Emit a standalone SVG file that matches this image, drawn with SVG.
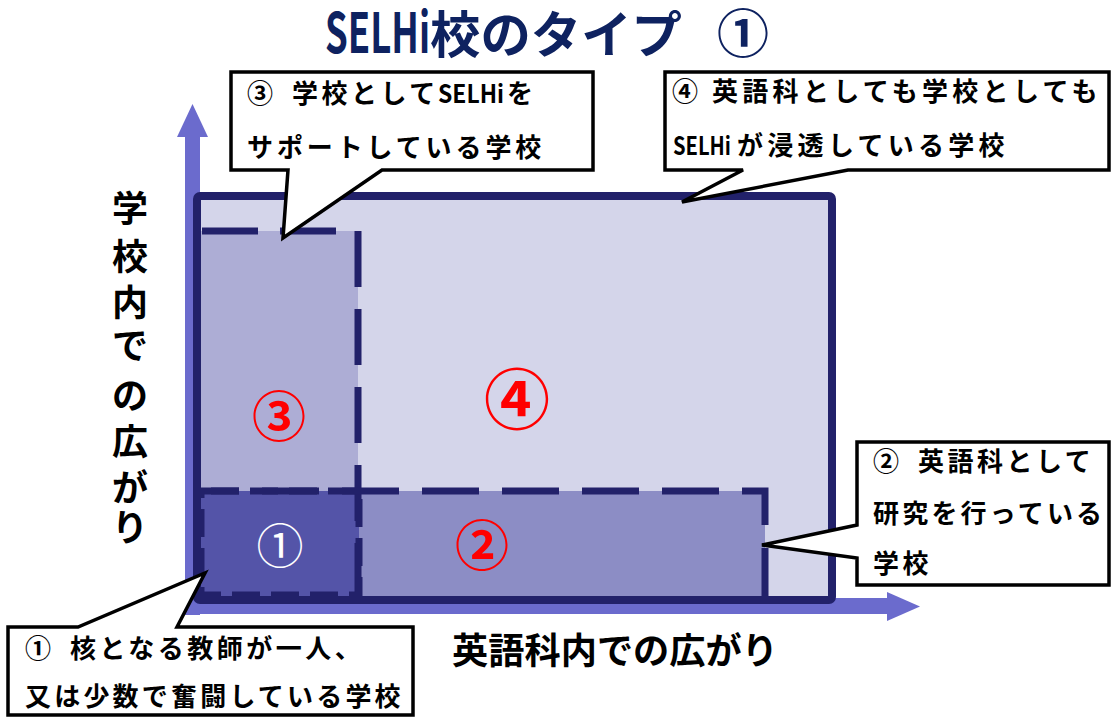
<svg xmlns="http://www.w3.org/2000/svg" width="1112" height="718" viewBox="0 0 1112 718">
<style>
.jp{font-family:"Noto Sans CJK JP","Noto Sans CJK SC",sans-serif;font-weight:bold}
.cap{font-size:26px;letter-spacing:3.5px;fill:#000}
.lat{font-size:25px;fill:#000;letter-spacing:0}
.axlab{font-size:36px;fill:#000}
.call{fill:#fff;stroke:#000;stroke-width:3.5;stroke-linejoin:miter}
.dash{fill:none;stroke:#22216A;stroke-width:7}
.red{fill:#FF0000;text-anchor:middle}
</style>
<rect width="1112" height="718" fill="#fff"/>
<g id="title">
<text class="jp" x="325" y="53" font-size="56" fill="#0E2260" textLength="105" lengthAdjust="spacingAndGlyphs">SELHi</text>
<text class="jp" x="430" y="53" font-size="50" fill="#0E2260" textLength="252" lengthAdjust="spacingAndGlyphs">校のタイプ</text>
<text class="jp" x="743" y="53" font-size="52" fill="#0E2260" text-anchor="middle">①</text>
</g>
<g id="axes">
<rect x="185" y="135" width="15" height="480" fill="#6B6BCD"/>
<polygon points="177,137 192.5,104 208,137" fill="#6B6BCD"/>
<rect x="185" y="598" width="704" height="16" fill="#6B6BCD"/>
<polygon points="887,592 920,606.5 887,621" fill="#6B6BCD"/>
</g>
<g id="node-4">
<rect x="197" y="196" width="635" height="404" fill="#D4D5EA"/>
</g>
<g id="node-3">
<rect x="200" y="231" width="158" height="369" fill="#ADADD5"/>
</g>
<g id="node-2">
<rect x="200" y="491" width="565" height="109" fill="#8C8DC5"/>
</g>
<g id="node-1">
<rect x="200" y="491" width="159" height="105" fill="#5454A8"/>
</g>
<g id="borders">
<path class="dash" d="M202 231 H358 V600" stroke-dasharray="56 22"/>
<path class="dash" d="M200 491 H765 V600" stroke-dasharray="57 23" stroke-dashoffset="18"/>
<rect class="dash" x="201" y="491" width="158" height="104" stroke-dasharray="28 11" stroke-dashoffset="-10"/>
<rect x="197" y="196" width="635" height="404" rx="3" fill="none" stroke="#22216A" stroke-width="8"/>
</g>
<g id="region-labels">
<text class="jp red" x="279" y="437" font-size="54">③</text>
<text class="jp red" x="517" y="424" font-size="66">④</text>
<text class="jp red" x="482" y="566" font-size="54">②</text>
<text x="280" y="563" font-size="47" fill="#fff" text-anchor="middle" style="font-family:'Noto Sans CJK JP',sans-serif;font-weight:normal">①</text>
</g>
<g id="axis-labels">
<g class="jp axlab" text-anchor="middle">
<text x="130" y="222">学</text>
<text x="130" y="270">校</text>
<text x="130" y="316">内</text>
<text x="130" y="359">で</text>
<text x="130" y="409">の</text>
<text x="130" y="455">広</text>
<text x="130" y="501">が</text>
<text x="130" y="541">り</text>
</g>
<text class="jp axlab" x="452" y="664" textLength="326" lengthAdjust="spacingAndGlyphs">英語科内での広がり</text>
</g>
<g id="connectors">
<path class="call" d="M231 72 H593 V170 H382 L283 238 L288 170 H231 Z"/>
<path class="call" d="M665 72 H1109 V170 H848 L682 202 L743 170 H665 Z"/>
<path class="call" d="M857 442 H1109 V585 H857 V558 L762 545 L857 525 Z"/>
<path class="call" d="M8 627 H78 L205 573 L177 627 H413 V715 H8 Z"/>
</g>
<g id="callout-3">
<text class="jp cap" y="103"><tspan x="247">③</tspan><tspan x="292">学校として</tspan><tspan x="507">を</tspan></text>
<text class="jp lat" x="438" y="103" textLength="66" lengthAdjust="spacingAndGlyphs">SELHi</text>
<text class="jp cap" x="247" y="157" style="letter-spacing:3.9px">サポートしている学校</text>
</g>
<g id="callout-4">
<text class="jp cap" y="101"><tspan x="672">④</tspan><tspan x="712" style="letter-spacing:4.3px">英語科としても学校としても</tspan></text>
<text class="jp lat" x="673" y="155" textLength="58" lengthAdjust="spacingAndGlyphs">SELHi</text>
<text class="jp cap" y="155" style="letter-spacing:4.3px"><tspan x="737">が浸透している学校</tspan></text>
</g>
<g id="callout-2">
<text class="jp cap" y="471"><tspan x="873">②</tspan><tspan x="918">英語科として</tspan></text>
<text class="jp cap" x="873" y="523" style="letter-spacing:3.2px">研究を行っている</text>
<text class="jp cap" x="873" y="573">学校</text>
</g>
<g id="callout-1">
<text class="jp cap" y="658"><tspan x="25">①</tspan><tspan x="70">核となる教師が一人、</tspan></text>
<text class="jp cap" x="25" y="706" style="letter-spacing:3.2px">又は少数で奮闘している学校</text>
</g>
</svg>
